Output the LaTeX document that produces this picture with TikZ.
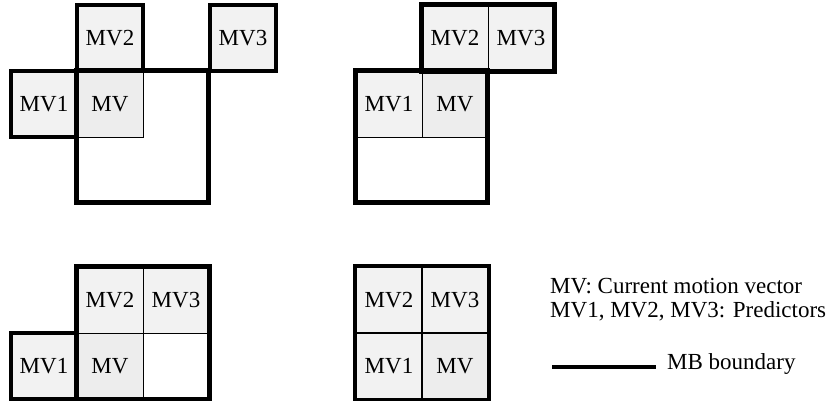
\documentclass[tikz,border=0pt]{standalone}
\usepackage{fontspec}
\setmainfont{Liberation Serif}
\usetikzlibrary{positioning}

\begin{document}
\begin{tikzpicture}[
  x=1pt, y=-1pt,
  font=\fontsize{23}{27}\selectfont,
  every node/.style={inner sep=0pt},
  cell/.style={
    draw=black, line width=0.8pt, rectangle, minimum size=66pt,
    fill=black!5,
  },
  curcell/.style={cell, fill=black!7},
  predbox/.style={cell, line width=4.5pt},
  mb/.style={draw=black, line width=4.5pt, line cap=rect},
]
\useasboundingbox (0,0) rectangle (835,401);

% ── Column x-positions (cell centres) ──────────────────────────────
\def\cA{44}
\def\cB{110}
\def\cC{176}
\def\cD{243}
\def\cE{389}
\def\cF{455}
\def\cG{521}

% ── Row y-positions (cell centres) ─────────────────────────────────
\def\rA{38}
\def\rB{104}
\def\rD{300}
\def\rE{366}

% ── Panel 1: MV2 above, MV3 above-right, MV1 left ──────────────────
\node[curcell] (pAmv)  at (\cB,\rB) {MV};
\node[predbox] (pAmvb) at (\cB,\rA) {MV2};
\node[predbox] (pAmvc) at (\cD,\rA) {MV3};
\node[predbox] (pAmva) at (\cA,\rB) {MV1};
\draw[mb] (pAmv.north west) rectangle ++(132,132);

% ── Panel 2: MV2 and MV3 in the macroblock above ───────────────────
\node[cell]    (pBmva) at (\cE,\rB) {MV1};
\node[curcell] (pBmv)  at (\cF,\rB) {MV};
\node[cell]    (pBmvb) at (\cF,\rA) {MV2};
\node[cell]    (pBmvc) at (\cG,\rA) {MV3};
\draw[mb] (pBmvb.north west) rectangle (pBmvc.south east);
\draw[mb] (pBmva.north west) rectangle ++(132,132);

% ── Panel 3: MV1 in the macroblock to the left ─────────────────────
\node[cell]    (pCmvb) at (\cB,\rD) {MV2};
\node[cell]    (pCmvc) at (\cC,\rD) {MV3};
\node[curcell] (pCmv)  at (\cB,\rE) {MV};
\node[cell, fill=white] (pCnil) at (\cC,\rE) {};
\node[predbox] (pCmva) at (\cA,\rE) {MV1};
\draw[mb] (pCmvb.north west) rectangle (pCnil.south east);

% ── Panel 4: all predictors inside the macroblock ──────────────────
\node[cell, line width=2pt]    (pDmvb) at (\cE,\rD) {MV2};
\node[cell, line width=2pt]    (pDmvc) at (\cF,\rD) {MV3};
\node[cell, line width=2pt]    (pDmva) at (\cE,\rE) {MV1};
\node[curcell, line width=2pt] (pDmv)  at (\cF,\rE) {MV};
\draw[mb] (pDmvb.north west) rectangle (pDmv.south east);

% ── Legend ─────────────────────────────────────────────────────────
\node[anchor=base west] (keyA) at (550,293) {MV: Current motion vector};
\node[anchor=base west] (keyB) at (550,317) {MV1, MV2, MV3: Predictors};
\node[anchor=base west] (keyC) at (667,369) {MB boundary};
\coordinate (lineL) at (552,367);
\coordinate (lineR) at (656,367);
\draw[mb, line width=4.5pt, line cap=butt] (lineL) -- (lineR);

\end{tikzpicture}
\end{document}
